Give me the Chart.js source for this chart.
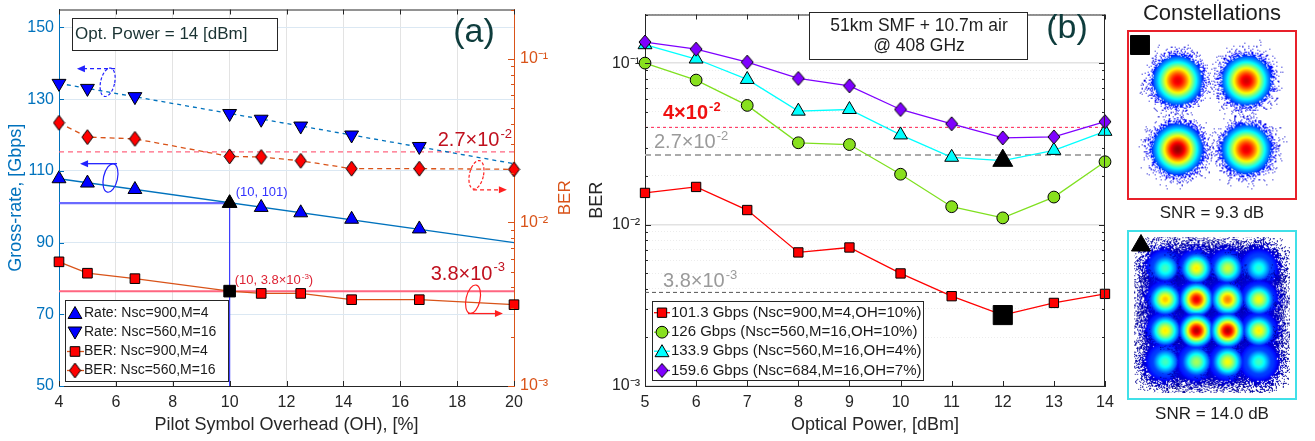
<!DOCTYPE html>
<html><head><meta charset="utf-8">
<script src="https://cdn.jsdelivr.net/npm/chart.js@4.4.1/dist/chart.umd.min.js"></script>
<style>
html,body{margin:0;padding:0;background:#fff;width:1315px;height:441px;overflow:hidden;font-family:"Liberation Sans",Arial,Helvetica,sans-serif;}
.abs{position:absolute;}
canvas{display:block;}
.ttl{position:absolute;text-align:center;white-space:nowrap;color:#1e1e1e;}
</style></head><body>
<div class="abs" style="left:0;top:0;width:590px;height:441px"><canvas id="ca" width="590" height="441"></canvas></div>
<div class="abs" style="left:580px;top:0;width:540px;height:441px"><canvas id="cb" width="540" height="441"></canvas></div>
<div class="ttl" style="left:1112px;top:2px;width:200px;font-size:22px;line-height:22px;">Constellations</div>
<div class="abs" style="left:1127px;top:30px;width:166px;height:166px;border:2px solid #e8202a;"><canvas id="cq" width="166" height="166"></canvas></div>
<div class="ttl" style="left:1112px;top:204px;width:200px;font-size:17px;line-height:17px;">SNR = 9.3 dB</div>
<div class="abs" style="left:1127px;top:230px;width:166px;height:166px;border:2px solid #40e0e8;"><canvas id="cm" width="166" height="166"></canvas></div>
<div class="ttl" style="left:1112px;top:405px;width:200px;font-size:17px;line-height:17px;">SNR = 14.0 dB</div>
<script>
// ================= DATA =================
// Panel (a): pilot symbol overhead sweep at 14 dBm
const ohX      = [4, 5, 6.67, 10, 11.11, 12.5, 14.29, 16.67, 20];
const ohTicks  = [4, 6, 8, 10, 12, 14, 16, 18, 20];
const rateTicks = [50, 70, 90, 110, 130, 150];
const rateM4   = [107.8, 106.6, 104.8, 101, 99.8, 98.3, 96.5, 93.8];      // Nsc=900, M=4
const rateM16  = [134.4, 133, 130.7, 126, 124.4, 122.5, 120, 116.8];      // Nsc=560, M=16
const fitX     = [4, 20];
const rateM4Fit  = [107.8, 90];
const rateM16Fit = [134.4, 112];
const berM4    = [5.74e-3, 4.89e-3, 4.53e-3, 3.8e-3, 3.68e-3, 3.68e-3, 3.37e-3, 3.37e-3, 3.14e-3];
const berM16   = [0.0406, 0.0332, 0.0324, 0.0253, 0.0251, 0.0238, 0.0213, 0.0213, 0.0211];
const thrA     = [3.8e-3, 2.7e-2];
const opA      = {oh: 10, rate: 101, ber: 3.8e-3};
const berDecades = [1e-3, 1e-2, 1e-1];
// Panel (b): BER vs optical power
const powerX   = [5, 6, 7, 8, 9, 10, 11, 12, 13, 14];
const ber101   = [0.0157, 0.0171, 0.0123, 0.00672, 0.00721, 0.00498, 0.00360, 0.00275, 0.00327, 0.00372];
const ber126   = [0.100, 0.0785, 0.0547, 0.0321, 0.0313, 0.0205, 0.0129, 0.0110, 0.0148, 0.0245];
const ber133   = [0.130, 0.106, 0.0792, 0.0504, 0.0516, 0.0359, 0.0261, 0.0249, 0.0288, 0.0378];
const ber159   = [0.135, 0.122, 0.1014, 0.0803, 0.0723, 0.0516, 0.0421, 0.0344, 0.0349, 0.0434];
const thrB     = [0.04, 0.027, 0.0038];
const opB      = {power: 12, qpsk: 0.00275, qam: 0.0249};
const legendB  = ['101.3 Gbps (Nsc=900,M=4,OH=10%)', '126 Gbps (Nsc=560,M=16,OH=10%)', '133.9 Gbps (Nsc=560,M=16,OH=4%)', '159.6 Gbps (Nsc=684,M=16,OH=7%)'];
const legendA  = ['Rate: Nsc=900,M=4', 'Rate: Nsc=560,M=16', 'BER: Nsc=900,M=4', 'BER: Nsc=560,M=16'];
// Constellations: cluster positions and relative peak density
const qpskI = [-1, 1, -1, 1];
const qpskQ = [1, 1, -1, -1];
const qpskPeak = [0.9, 0.92, 0.98, 0.9];
const qamI = [-3,-1,1,3, -3,-1,1,3, -3,-1,1,3, -3,-1,1,3];
const qamQ = [3,3,3,3, 1,1,1,1, -1,-1,-1,-1, -3,-3,-3,-3];
const qamPeak = [0.44,0.64,0.58,0.42, 0.68,0.9,0.75,0.62, 0.64,0.95,0.95,0.64, 0.44,0.54,0.62,0.44];

// ================= HELPERS =================
const FONT = '"Liberation Sans", Arial, Helvetica, sans-serif';
const pts = (xs, ys) => ys.map((y, i) => ({x: xs[i], y}));
const isDecade = v => Math.abs(Math.log10(v) - Math.round(Math.log10(v))) < 1e-6;
const SUP = {'-': '\u207B', '0': '\u2070', '1': '\u00B9', '2': '\u00B2', '3': '\u00B3'};
const decLabel = v => isDecade(v) ? '10' + String(Math.round(Math.log10(v))).split('').map(c => SUP[c]).join('') : '';
const logMinor = (lo, hi) => { const a = []; for (let e = -3; e <= -1; e++) for (let m = 1; m <= 9; m++) { const v = m * Math.pow(10, e); if (v >= lo * 0.999 && v <= hi * 1.001) a.push(+v.toPrecision(3)); } return a; };

function makeDiamond(w, h, fill) {
  const c = document.createElement('canvas'); c.width = w + 2; c.height = h + 2;
  const g = c.getContext('2d'); g.beginPath();
  g.moveTo(c.width / 2, 1); g.lineTo(w + 1, c.height / 2); g.lineTo(c.width / 2, h + 1); g.lineTo(1, c.height / 2); g.closePath();
  g.fillStyle = fill; g.fill(); g.lineWidth = 1; g.strokeStyle = '#000'; g.stroke(); return c;
}
const diamondA = makeDiamond(11, 15, '#FF0000');
const diamondB = makeDiamond(12, 14, '#7F00FF');

function mk(ctx, type, x, y, r, fill, stroke, rot) {
  ctx.save();
  if (type === 'img') { ctx.drawImage(fill, x - fill.width / 2, y - fill.height / 2); ctx.restore(); return; }
  ctx.beginPath(); ctx.fillStyle = fill; ctx.strokeStyle = stroke; ctx.lineWidth = 1;
  if (type === 'triangle') {
    const a0 = rot ? Math.PI : 0;
    for (let k = 0; k < 3; k++) { const a = a0 + k * 2 * Math.PI / 3; const px = x + Math.sin(a) * r, py = y - Math.cos(a) * r; k ? ctx.lineTo(px, py) : ctx.moveTo(px, py); }
    ctx.closePath();
  } else if (type === 'rect') { const s = r * Math.SQRT1_2; ctx.rect(x - s, y - s, 2 * s, 2 * s); }
  else if (type === 'circle') { ctx.arc(x, y, r, 0, 2 * Math.PI); }
  ctx.fill(); ctx.stroke(); ctx.restore();
}

function sci(ctx, base, exp, suffix, x, y, size, color, weight, align) {
  ctx.save(); ctx.fillStyle = color; ctx.textBaseline = 'alphabetic'; ctx.textAlign = 'left';
  const es = Math.round(size * 0.64);
  const f1 = (weight || '') + ' ' + size + 'px ' + FONT, f2 = (weight || '') + ' ' + es + 'px ' + FONT;
  ctx.font = f1; const w1 = ctx.measureText(base).width; const w3 = suffix ? ctx.measureText(suffix).width : 0;
  ctx.font = f2; const w2 = ctx.measureText(exp).width;
  const tw = w1 + w2 + w3 + 1;
  let x0 = align === 'right' ? x - tw : align === 'center' ? x - tw / 2 : x;
  const by = y + size * 0.36;
  ctx.font = f1; ctx.fillText(base, x0, by);
  ctx.font = f2; ctx.fillText(exp, x0 + w1 + 1, by - size * 0.42);
  if (suffix) { ctx.font = f1; ctx.fillText(suffix, x0 + w1 + w2 + 1, by); }
  ctx.restore();
}
function txt(ctx, s, x, y, size, color, align, weight, rot) {
  ctx.save(); ctx.font = (weight || '') + ' ' + size + 'px ' + FONT; ctx.fillStyle = color; ctx.textAlign = align || 'left'; ctx.textBaseline = 'middle';
  ctx.translate(x, y); if (rot) ctx.rotate(rot);
  ctx.fillText(s, 0, 0); ctx.restore();
}
function arrow(ctx, x1, y1, x2, y2, color, dashed) {
  ctx.save(); ctx.strokeStyle = color; ctx.fillStyle = color; ctx.lineWidth = 1.3;
  ctx.setLineDash(dashed ? [4, 3] : []);
  const ang = Math.atan2(y2 - y1, x2 - x1);
  ctx.beginPath(); ctx.moveTo(x1, y1); ctx.lineTo(x2 - Math.cos(ang) * 6, y2 - Math.sin(ang) * 6); ctx.stroke();
  ctx.setLineDash([]); ctx.beginPath(); ctx.moveTo(x2, y2);
  ctx.lineTo(x2 - Math.cos(ang) * 8 - Math.sin(ang) * 3.5, y2 - Math.sin(ang) * 8 + Math.cos(ang) * 3.5);
  ctx.lineTo(x2 - Math.cos(ang) * 8 + Math.sin(ang) * 3.5, y2 - Math.sin(ang) * 8 - Math.cos(ang) * 3.5);
  ctx.closePath(); ctx.fill(); ctx.restore();
}
function ell(ctx, cx, cy, color, dashed) {
  ctx.save(); ctx.strokeStyle = color; ctx.lineWidth = 1.2; ctx.setLineDash(dashed ? [3, 2] : []);
  ctx.beginPath(); ctx.ellipse(cx, cy, 7, 14.5, 0.22, 0, 2 * Math.PI); ctx.stroke(); ctx.restore();
}
function box(ctx, x1, y1, x2, y2) {
  ctx.save(); ctx.fillStyle = '#fff'; ctx.fillRect(x1, y1, x2 - x1, y2 - y1);
  ctx.strokeStyle = '#262626'; ctx.lineWidth = 1; ctx.strokeRect(x1 + 0.5, y1 + 0.5, x2 - x1, y2 - y1); ctx.restore();
}
function lineSeg(ctx, x1, x2, y, color, dash) {
  ctx.save(); ctx.strokeStyle = color; ctx.lineWidth = 1.3; ctx.setLineDash(dash || []);
  ctx.beginPath(); ctx.moveTo(x1, y); ctx.lineTo(x2, y); ctx.stroke(); ctx.restore();
}
function fixSize(prop, val) {
  return s => { s[prop] = val; s.paddingTop = 0; s.paddingBottom = 0; s.paddingLeft = 0; s.paddingRight = 0; };
}

// ================= PANEL (a) =================
const BLUE = '#0072BD', ORANGE = '#D95319', DARK = '#262626';
const frameA = {
  id: 'frameA',
  afterDraw(chart) {
    const {ctx, chartArea: a, scales} = chart; const xs = scales.x, yl = scales.yL, yr = scales.yR;
    ctx.save();
    ctx.strokeStyle = DARK; ctx.lineWidth = 1;
    ctx.beginPath(); ctx.moveTo(a.left, a.top + 0.5); ctx.lineTo(a.right, a.top + 0.5); ctx.stroke();
    ohTicks.forEach(v => { const p = Math.round(xs.getPixelForValue(v)) + 0.5; ctx.beginPath(); ctx.moveTo(p, a.top); ctx.lineTo(p, a.top + 5); ctx.moveTo(p, a.bottom); ctx.lineTo(p, a.bottom - 5); ctx.stroke(); });
    ctx.strokeStyle = BLUE;
    rateTicks.forEach(v => { const p = Math.round(yl.getPixelForValue(v)) + 0.5; ctx.beginPath(); ctx.moveTo(a.left, p); ctx.lineTo(a.left + 5, p); ctx.stroke(); });
    ctx.strokeStyle = ORANGE;
    logMinor(1e-3, 0.2).forEach(v => { const p = Math.round(yr.getPixelForValue(v)) + 0.5; const l = isDecade(v) ? 6 : 3; ctx.beginPath(); ctx.moveTo(a.right, p); ctx.lineTo(a.right - l, p); ctx.stroke(); });
    ctx.restore();
    txt(ctx, 'BER', a.right + 51, (a.top + a.bottom) / 2, 17, ORANGE, 'center', '', -Math.PI / 2);
    box(ctx, 72, 18, 277, 50);
    txt(ctx, 'Opt. Power = 14 [dBm]', 75, 34.5, 17, '#1a3333');
    txt(ctx, '(a)', 474, 33, 34, '#0E3C3C', 'center');
    sci(ctx, '2.7\u00D710', '-2', '', a.right - 2, yr.getPixelForValue(thrA[1]) - 13, 20, '#C0101E', '', 'right');
    sci(ctx, '3.8\u00D710', '-3', '', a.right - 9, yr.getPixelForValue(thrA[0]) - 18.5, 20, '#C0101E', '', 'right');
    const px = xs.getPixelForValue(opA.oh);
    txt(ctx, '(10, 101)', px + 6, yl.getPixelForValue(opA.rate) - 11, 13, '#3333FF');
    sci(ctx, '(10, 3.8\u00D710', '-3', ')', px + 5, yr.getPixelForValue(opA.ber) - 11.5, 13, '#DD2233', '', 'left');
    const X = v => xs.getPixelForValue(v), YL = v => yl.getPixelForValue(v);
    ell(ctx, X(5.71), YL(134.7), '#2222FF', true); arrow(ctx, X(5.97), YL(138.5), X(4.63), YL(138.5), '#2222FF', true);
    ell(ctx, X(5.81), YL(108.0), '#2222FF', false); arrow(ctx, X(6.04), YL(112.0), X(4.74), YL(112.0), '#2222FF', false);
    ell(ctx, X(18.68), YL(108.9), '#FF2020', true); arrow(ctx, X(18.56), YL(104.7), X(19.75), YL(104.7), '#FF2020', true);
    ell(ctx, X(18.56), YL(74.2), '#FF2020', false); arrow(ctx, X(18.38), YL(70.2), X(19.61), YL(70.2), '#FF2020', false);
    box(ctx, 65, 300, 228, 381);
    const ly = [313, 332.5, 351.5, 370.5];
    mk(ctx, 'triangle', 75, ly[0] + 1.5, 8, '#0000FF', '#000');
    mk(ctx, 'triangle', 75, ly[1] - 1.5, 8, '#0000FF', '#000', true);
    lineSeg(ctx, 67, 84, ly[2], ORANGE); mk(ctx, 'rect', 75, ly[2], 6.8, '#FF0000', '#000');
    lineSeg(ctx, 67, 84, ly[3], ORANGE); mk(ctx, 'img', 75, ly[3], 0, diamondA);
    legendA.forEach((s, i) => txt(ctx, s, 84, ly[i], 14, '#1a1a1a'));
  }
};

new Chart(document.getElementById('ca'), {
  type: 'scatter',
  data: {datasets: [
    {label: 'opRate', data: [{x: opA.oh, y: opA.rate}], yAxisID: 'yL', pointStyle: 'triangle', pointRadius: 8.5, backgroundColor: '#000', borderColor: '#000', order: 0},
    {label: 'opBer', data: [{x: opA.oh, y: opA.ber}], yAxisID: 'yR', pointStyle: 'rect', pointRadius: 8.2, backgroundColor: '#000', borderColor: '#000', order: 0},
    {label: legendA[0], data: pts(ohX, rateM4), yAxisID: 'yL', pointStyle: 'triangle', pointRadius: 8, backgroundColor: '#0000FF', borderColor: '#000', borderWidth: 1, order: 1},
    {label: legendA[1], data: pts(ohX, rateM16), yAxisID: 'yL', pointStyle: 'triangle', rotation: 180, pointRadius: 8, backgroundColor: '#0000FF', borderColor: '#000', borderWidth: 1, order: 1},
    {label: legendA[2], data: pts(ohX, berM4), yAxisID: 'yR', showLine: true, borderColor: ORANGE, borderWidth: 1.3, pointStyle: 'rect', pointRadius: 6.8, pointBackgroundColor: '#FF0000', pointBorderColor: '#000', pointBorderWidth: 1, order: 2},
    {label: legendA[3], data: pts(ohX, berM16), yAxisID: 'yR', showLine: true, borderColor: ORANGE, borderWidth: 1.3, borderDash: [5, 4], pointStyle: diamondA, pointRadius: 7, order: 2},
    {label: 'fitM4', data: pts(fitX, rateM4Fit), yAxisID: 'yL', showLine: true, borderColor: BLUE, borderWidth: 1.3, pointRadius: 0, order: 3},
    {label: 'fitM16', data: pts(fitX, rateM16Fit), yAxisID: 'yL', showLine: true, borderColor: BLUE, borderWidth: 1.3, borderDash: [4, 4], pointRadius: 0, order: 3},
    {label: 'thr1', data: pts(fitX, [thrA[0], thrA[0]]), yAxisID: 'yR', showLine: true, borderColor: '#FF6680', borderWidth: 2, pointRadius: 0, order: 4},
    {label: 'thr2', data: pts(fitX, [thrA[1], thrA[1]]), yAxisID: 'yR', showLine: true, borderColor: '#FF6680', borderWidth: 1.2, borderDash: [5, 4], pointRadius: 0, order: 4},
    {label: 'guideH', data: [{x: 4, y: opA.rate}, {x: opA.oh, y: opA.rate}], yAxisID: 'yL', showLine: true, borderColor: 'rgba(80,80,255,0.85)', borderWidth: 2.2, pointRadius: 0, order: 4},
    {label: 'guideV', data: [{x: opA.oh, y: 50}, {x: opA.oh, y: opA.rate}], yAxisID: 'yL', showLine: true, borderColor: 'rgba(40,40,255,0.9)', borderWidth: 1.2, pointRadius: 0, order: 4}
  ]},
  options: {
    responsive: false, animation: false, events: [],
    datasets: {scatter: {clip: false}},
    layout: {padding: {top: 6, left: 0, right: 0, bottom: 0}},
    plugins: {legend: {display: false}, tooltip: {enabled: false}},
    scales: {
      x: {type: 'linear', min: 4, max: 20, afterBuildTicks: s => { s.ticks = ohTicks.map(v => ({value: v})); }, afterFit: fixSize('height', 55),
          ticks: {color: DARK, font: {size: 16, family: FONT}, padding: 7, maxRotation: 0, autoSkip: false},
          grid: {color: '#e3e3e3', drawTicks: false}, border: {color: DARK, width: 1},
          title: {display: true, text: 'Pilot Symbol Overhead (OH), [%]', color: DARK, font: {size: 18, family: FONT}, padding: {top: 0, bottom: 5}}},
      yL: {type: 'linear', position: 'left', min: 50, max: 155, afterBuildTicks: s => { s.ticks = rateTicks.map(v => ({value: v})); }, afterFit: fixSize('width', 59),
          ticks: {color: BLUE, font: {size: 16, family: FONT}, padding: 5},
          grid: {color: '#dbe8f3', drawTicks: false}, border: {color: BLUE, width: 1},
          title: {display: true, text: 'Gross-rate, [Gbps]', color: BLUE, font: {size: 18, family: FONT}, padding: {top: 5, bottom: 0}}},
      yR: {type: 'logarithmic', position: 'right', min: 1e-3, max: 0.2, afterBuildTicks: s => { s.ticks = berDecades.map(v => ({value: v})); }, afterFit: fixSize('width', 76),
          ticks: {color: ORANGE, font: {size: 16, family: FONT}, padding: 6, callback: v => decLabel(v)},
          grid: {display: false, drawTicks: false}, border: {color: ORANGE, width: 1},
          title: {display: false}}
    }
  },
  plugins: [frameA]
});

// ================= PANEL (b) =================
const frameB = {
  id: 'frameB',
  afterDraw(chart) {
    const {ctx, chartArea: a, scales} = chart; const xs = scales.x, ys = scales.y;
    ctx.save(); ctx.strokeStyle = DARK; ctx.lineWidth = 1;
    ctx.beginPath(); ctx.moveTo(a.left, a.top + 0.5); ctx.lineTo(a.right, a.top + 0.5); ctx.moveTo(a.right - 0.5, a.top); ctx.lineTo(a.right - 0.5, a.bottom); ctx.stroke();
    powerX.forEach(v => { const p = Math.round(xs.getPixelForValue(v)) + 0.5; ctx.beginPath(); ctx.moveTo(p, a.top); ctx.lineTo(p, a.top + 5); ctx.moveTo(p, a.bottom); ctx.lineTo(p, a.bottom - 5); ctx.stroke(); });
    logMinor(1e-3, 0.2).forEach(v => { const p = Math.round(ys.getPixelForValue(v)) + 0.5; const l = isDecade(v) ? 6 : 3; ctx.beginPath(); ctx.moveTo(a.left, p); ctx.lineTo(a.left + l, p); ctx.moveTo(a.right, p); ctx.lineTo(a.right - l, p); ctx.stroke(); });
    ctx.restore();
    sci(ctx, '4\u00D710', '-2', '', a.left + 18, ys.getPixelForValue(thrB[0]) - 15.5, 20, '#F01010', 'bold', 'left');
    sci(ctx, '2.7\u00D710', '-2', '', a.left + 9, ys.getPixelForValue(thrB[1]) - 14, 20, '#9a9a9a', '', 'left');
    sci(ctx, '3.8\u00D710', '-3', '', a.left + 18, ys.getPixelForValue(thrB[2]) - 12.5, 20, '#9a9a9a', '', 'left');
    box(ctx, 229, 12, 447, 59);
    txt(ctx, '51km SMF + 10.7m air', 339, 26, 17.5, '#1e1e1e', 'center');
    txt(ctx, '@ 408 GHz', 339, 46, 17.5, '#1e1e1e', 'center');
    txt(ctx, '(b)', 487, 29, 34, '#0E3C3C', 'center');
    box(ctx, 72, 301, 343, 380);
    const ly = [312.7, 332.2, 351.2, 370.5];
    lineSeg(ctx, 74, 90, ly[0], '#FF0000'); mk(ctx, 'rect', 82, ly[0], 6.6, '#FF0000', '#000');
    lineSeg(ctx, 74, 90, ly[1], '#7FE01F'); mk(ctx, 'circle', 82, ly[1], 5.9, '#88E01E', '#000');
    lineSeg(ctx, 74, 90, ly[2], '#00FFFF'); mk(ctx, 'triangle', 82, ly[2] + 1.5, 8, '#00FFFF', '#000');
    lineSeg(ctx, 74, 90, ly[3], '#7F00FF'); mk(ctx, 'img', 82, ly[3], 0, diamondB);
    legendB.forEach((s, i) => txt(ctx, s, 91, ly[i], 15, '#1a1a1a'));
  }
};
const yTicksB = logMinor(1e-3, 0.2);
new Chart(document.getElementById('cb'), {
  type: 'scatter',
  data: {datasets: [
    {label: 'opQPSK', data: [{x: opB.power, y: opB.qpsk}], pointStyle: 'rect', pointRadius: 13.5, backgroundColor: '#000', borderColor: '#000', order: 0},
    {label: 'opQAM', data: [{x: opB.power, y: opB.qam}], pointStyle: 'triangle', pointRadius: 11.5, backgroundColor: '#000', borderColor: '#000', order: 0},
    {label: legendB[3], data: pts(powerX, ber159), showLine: true, borderColor: '#7F00FF', borderWidth: 1.3, pointStyle: diamondB, pointRadius: 7, order: 1},
    {label: legendB[2], data: pts(powerX, ber133), showLine: true, borderColor: '#00FFFF', borderWidth: 1.3, pointStyle: 'triangle', pointRadius: 8, pointBackgroundColor: '#00FFFF', pointBorderColor: '#000', pointBorderWidth: 1, order: 2},
    {label: legendB[1], data: pts(powerX, ber126), showLine: true, borderColor: '#7FE01F', borderWidth: 1.3, pointStyle: 'circle', pointRadius: 5.9, pointBackgroundColor: '#88E01E', pointBorderColor: '#000', pointBorderWidth: 1, order: 3},
    {label: legendB[0], data: pts(powerX, ber101), showLine: true, borderColor: '#FF0000', borderWidth: 1.3, pointStyle: 'rect', pointRadius: 6.6, pointBackgroundColor: '#FF0000', pointBorderColor: '#000', pointBorderWidth: 1, order: 4},
    {label: 'thr4e-2', data: [{x: 5, y: thrB[0]}, {x: 14, y: thrB[0]}], showLine: true, borderColor: '#FF2050', borderWidth: 1, borderDash: [3, 3], pointRadius: 0, order: 5},
    {label: 'thr2.7e-2', data: [{x: 5, y: thrB[1]}, {x: 14, y: thrB[1]}], showLine: true, borderColor: '#AAAAAA', borderWidth: 2, borderDash: [6, 4], pointRadius: 0, order: 5},
    {label: 'thr3.8e-3', data: [{x: 5, y: thrB[2]}, {x: 14, y: thrB[2]}], showLine: true, borderColor: '#555555', borderWidth: 1, borderDash: [4, 3], pointRadius: 0, order: 5}
  ]},
  options: {
    responsive: false, animation: false, events: [],
    datasets: {scatter: {clip: false}},
    layout: {padding: {top: 6, left: 0, right: 15, bottom: 0}},
    plugins: {legend: {display: false}, tooltip: {enabled: false}},
    scales: {
      x: {type: 'linear', min: 5, max: 14, afterBuildTicks: s => { s.ticks = powerX.map(v => ({value: v})); }, afterFit: fixSize('height', 55),
          ticks: {color: DARK, font: {size: 16, family: FONT}, padding: 7, maxRotation: 0, autoSkip: false},
          grid: {display: false, drawTicks: false}, border: {color: DARK, width: 1},
          title: {display: true, text: 'Optical Power, [dBm]', color: DARK, font: {size: 18, family: FONT}, padding: {top: 0, bottom: 5}}},
      y: {type: 'logarithmic', position: 'left', min: 1e-3, max: 0.2, afterBuildTicks: s => { s.ticks = yTicksB.map(v => ({value: v})); }, afterFit: fixSize('width', 65),
          ticks: {color: DARK, font: {size: 16, family: FONT}, padding: 5, autoSkip: false, callback: v => decLabel(v)},
          grid: {drawTicks: false, color: c => (c.tick && isDecade(c.tick.value)) ? '#e2e2e2' : '#ececec', lineWidth: c => (c.tick && isDecade(c.tick.value)) ? 1.5 : 1,
                 borderDash: c => (c.tick && !isDecade(c.tick.value)) ? [1, 2] : []},
          border: {color: DARK, width: 1, dash: c => (c.tick && !isDecade(c.tick.value)) ? [1, 2] : []},
          title: {display: true, text: 'BER', color: DARK, font: {size: 18, family: FONT}, padding: {top: 6, bottom: 0}}}
    }
  },
  plugins: [frameB]
});

// ================= CONSTELLATIONS =================
function jet(t) { t = Math.max(0, Math.min(1, t)); const f = v => Math.max(0, Math.min(1, v)) * 255; return [f(1.5 - Math.abs(4 * t - 3)), f(1.5 - Math.abs(4 * t - 2)), f(1.5 - Math.abs(4 * t - 1))]; }
function hash(x, y, s) { let h = (Math.imul(x, 374761393) + Math.imul(y, 668265263) + Math.imul(s, 1013904223)) | 0; h = Math.imul(h ^ (h >>> 13), 1274126177); h ^= h >>> 16; return (h >>> 0) / 4294967296; }
function makeBlob(peak, sigma, R, solidT, floorT, seed, speckle, speckCol, dScale, dPow) {
  const S = Math.ceil(2 * R); const c = document.createElement('canvas'); c.width = S; c.height = S;
  const g = c.getContext('2d'); const im = g.createImageData(S, S); const d = im.data;
  for (let y = 0; y < S; y++) for (let x = 0; x < S; x++) {
    const dx = x + 0.5 - S / 2, dy = y + 0.5 - S / 2; const t = peak * Math.exp(-(dx * dx + dy * dy) / (2 * sigma * sigma));
    let a = 0, col = null;
    if (t >= solidT) { a = 255; col = jet(t); }
    else if (t > floorT) {
      const dens = (t - floorT) / (solidT - floorT);
      if (speckle) { if (hash(x, y, seed) < Math.pow(dens, dPow) * dScale) { a = 255; col = jet(speckCol(t)); } }
      else { a = Math.round(255 * dens); col = jet(t); }
    }
    if (a) { const i = (y * S + x) * 4; d[i] = col[0]; d[i + 1] = col[1]; d[i + 2] = col[2]; d[i + 3] = a; }
  }
  g.putImageData(im, 0, 0); return c;
}
const qpskBlobs = qpskPeak.map((p, i) => makeBlob(p, 14, 46, 0.2, 0.008, 11 + i, true, t => 0.06 + t * 0.6, 0.85, 1.4));
const qamBase = qamPeak.map((p, i) => makeBlob(0.28, 15, 36, 0.13, 0.008, 31 + i, true, t => t * 0.8, 0.95, 0.9));
const qamCore = qamPeak.map(p => makeBlob(p, 9.3, 22, 0.22, 0.14, 0, false));

const cornerMark = (type) => ({
  id: 'corner' + type,
  afterDraw(chart) { const ctx = chart.ctx; if (type === 'rect') mk(ctx, 'rect', 11, 13, 13.4, '#000', '#000'); else mk(ctx, 'triangle', 12, 13.5, 11, '#000', '#000'); }
});
const constOpts = (lim) => ({
  responsive: false, animation: false, events: [], layout: {padding: 0},
  plugins: {legend: {display: false}, tooltip: {enabled: false}},
  scales: {x: {type: 'linear', display: false, min: -lim, max: lim}, y: {type: 'linear', display: false, min: -lim, max: lim}}
});
new Chart(document.getElementById('cq'), {
  type: 'scatter',
  data: {datasets: [{label: 'QPSK', data: pts(qpskI, qpskQ), pointStyle: qpskBlobs, pointRadius: 1, order: 0}]},
  options: constOpts(2.27), plugins: [cornerMark('rect')]
});
new Chart(document.getElementById('cm'), {
  type: 'scatter',
  data: {datasets: [
    {label: '16QAM core', data: pts(qamI, qamQ), pointStyle: qamCore, pointRadius: 1, order: 0},
    {label: '16QAM spread', data: pts(qamI, qamQ), pointStyle: qamBase, pointRadius: 1, order: 1}
  ]},
  options: constOpts(5), plugins: [cornerMark('tri')]
});
</script>
</body></html>
